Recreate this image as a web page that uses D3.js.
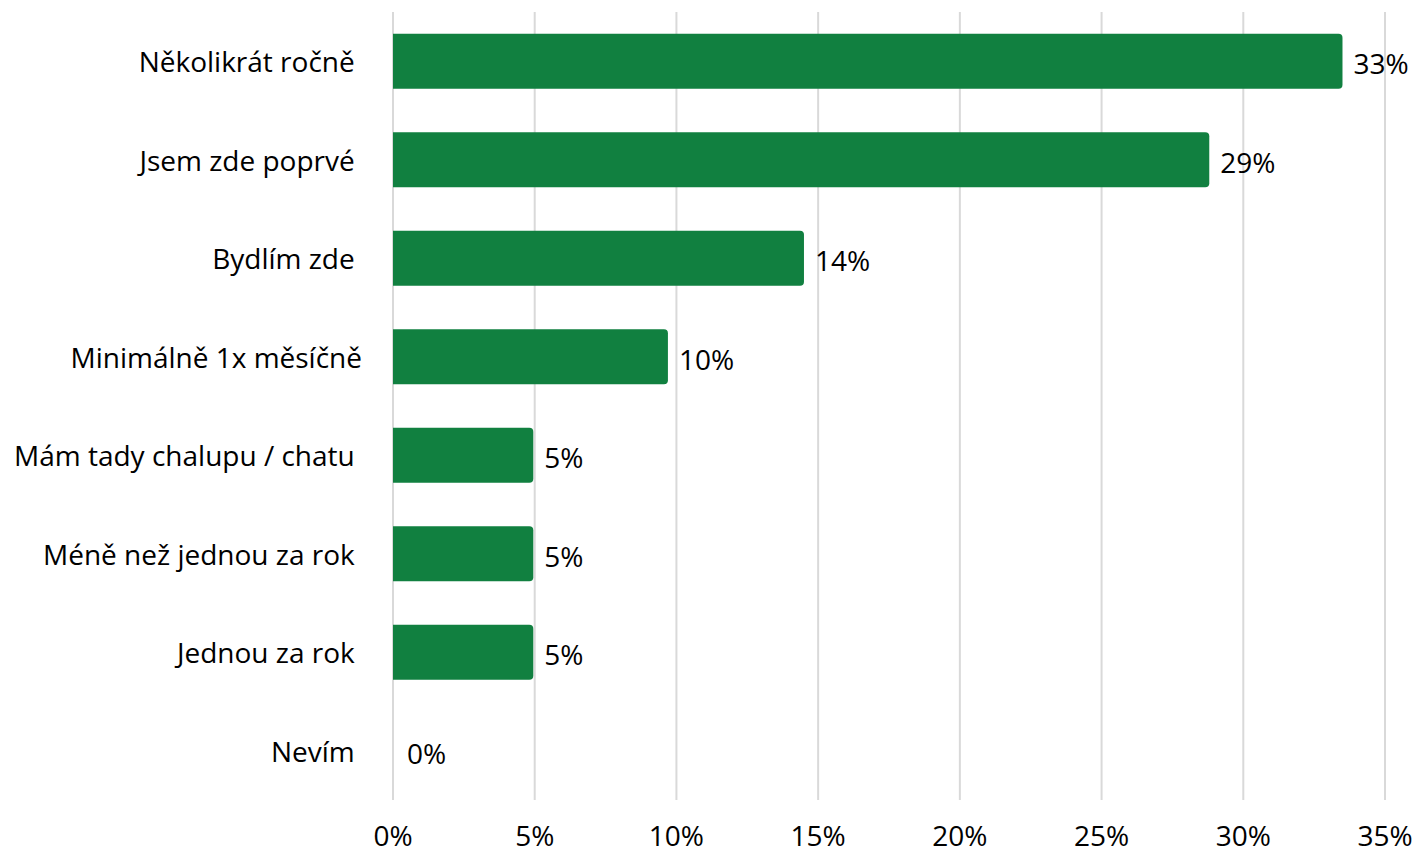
<!DOCTYPE html>
<html>
<head>
<meta charset="utf-8">
<script src="https://cdn.jsdelivr.net/npm/d3@7"></script>
<style>
  body { margin: 0; background: #fff; }
  text { font-family: "Open Sans", "Noto Sans", sans-serif; fill: #000; }
</style>
</head>
<body>
<div id="chart"></div>
<script>
(function(){
  // chart data
  const categories = [
    "Několikrát ročně\u00a0",
    "Jsem zde poprvé\u00a0",
    "Bydlím zde\u00a0",
    "Minimálně 1x měsíčně",
    "Mám tady chalupu / chatu\u00a0",
    "Méně než jednou za rok\u00a0",
    "Jednou za rok\u00a0",
    "Nevím\u00a0"
  ];
  const values = [33.5, 28.8, 14.5, 9.7, 4.95, 4.95, 4.95, 0];
  const valueLabels = ["33%", "29%", "14%", "10%", "5%", "5%", "5%", "0%"];
  const tickValues = [0, 5, 10, 15, 20, 25, 30, 35];

  const width = 1414, height = 855;
  const margin = { top: 12, right: 29, bottom: 55, left: 393 };
  const fontSize = "28px";

  const svg = d3.select("#chart").append("svg")
      .attr("width", width)
      .attr("height", height);

  const x = d3.scaleLinear()
      .domain([0, 35])
      .range([margin.left, width - margin.right]);

  const y = d3.scaleBand()
      .domain(categories)
      .range([margin.top, height - margin.bottom])
      .paddingInner(0.44)
      .paddingOuter(0.22);

  // vertical gridlines
  svg.append("g")
    .selectAll("line")
    .data(tickValues)
    .join("line")
      .attr("x1", d => x(d))
      .attr("x2", d => x(d))
      .attr("y1", margin.top)
      .attr("y2", height - margin.bottom)
      .attr("stroke", "#d9d9d9")
      .attr("stroke-width", 2);

  // bars, rounded on the right end only
  const r = 4;
  function barPath(d, i) {
    const x0 = x(0), x1 = x(d), y0 = y(categories[i]), h = y.bandwidth();
    if (x1 - x0 < 0.5) return "";
    const rr = Math.min(r, (x1 - x0) / 2);
    return `M${x0},${y0}H${x1 - rr}Q${x1},${y0} ${x1},${y0 + rr}` +
           `V${y0 + h - rr}Q${x1},${y0 + h} ${x1 - rr},${y0 + h}H${x0}Z`;
  }
  svg.append("g")
    .selectAll("path")
    .data(values)
    .join("path")
      .attr("d", barPath)
      .attr("fill", "#118040");

  // value labels
  svg.append("g")
    .selectAll("text")
    .data(values)
    .join("text")
      .attr("x", d => x(d) + (d === 0 ? 14 : 11))
      .attr("y", (d, i) => y(categories[i]) + y.bandwidth() / 2 + 3)
      .attr("dy", "0.35em")
      .style("font-size", fontSize)
      .text((d, i) => valueLabels[i]);

  // category axis labels
  svg.append("g")
    .selectAll("text")
    .data(categories)
    .join("text")
      .attr("x", 362)
      .attr("y", d => y(d) + y.bandwidth() / 2 + 1)
      .attr("dy", "0.35em")
      .attr("text-anchor", "end")
      .style("font-size", fontSize)
      .style("white-space", "pre")
      .text(d => d);

  // x axis tick labels
  svg.append("g")
    .selectAll("text")
    .data(tickValues)
    .join("text")
      .attr("x", d => x(d))
      .attr("y", 836)
      .attr("dy", "0.35em")
      .attr("text-anchor", "middle")
      .style("font-size", fontSize)
      .text(d => d + "%");
})();
</script>
</body>
</html>
